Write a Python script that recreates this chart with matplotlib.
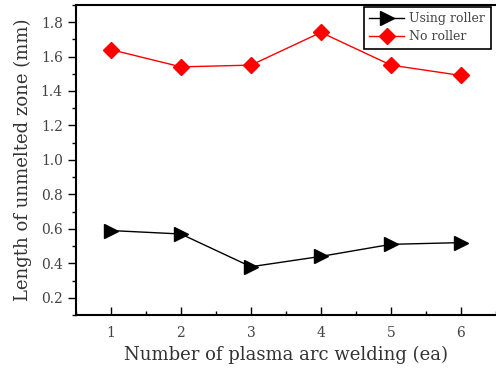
import matplotlib
matplotlib.use("Agg")
import matplotlib.pyplot as plt
from matplotlib.ticker import MultipleLocator

welds = [1, 2, 3, 4, 5, 6]
using_roller = [0.59, 0.57, 0.38, 0.44, 0.51, 0.52]
no_roller = [1.64, 1.54, 1.55, 1.74, 1.55, 1.49]

plt.rcParams['font.family'] = ['DejaVu Serif']

fig = plt.figure(figsize=(4.96, 3.71), dpi=100)
ax = fig.add_axes([0.153, 0.151, 0.847, 0.836])

ax.plot(welds, using_roller, color='black', lw=1, marker='>', markersize=10,
        label='Using roller')
ax.plot(welds, no_roller, color='red', lw=1, marker='D', markersize=8,
        label='No roller')

ax.set_xlim(0.5, 6.5)
ax.set_ylim(0.1, 1.9)
ax.set_xticks(welds)
ax.xaxis.set_minor_locator(MultipleLocator(0.5))
ax.yaxis.set_major_locator(MultipleLocator(0.2))
ax.yaxis.set_minor_locator(MultipleLocator(0.1))

# y ticks point out, x ticks point in (as in the original)
ax.tick_params(axis='y', which='major', direction='out', length=6, width=1,
               labelsize=10, labelcolor='#444444')
ax.tick_params(axis='y', which='minor', direction='out', length=3, width=1)
ax.tick_params(axis='x', which='major', direction='in', length=6, width=1,
               labelsize=10, labelcolor='#444444', pad=8)
ax.tick_params(axis='x', which='minor', direction='in', length=3, width=1)

for side in ['left', 'bottom', 'top']:
    ax.spines[side].set_linewidth(1.5)
ax.spines['right'].set_visible(False)

ax.set_xlabel('Number of plasma arc welding (ea)', fontsize=13, color='#333333')
ax.set_ylabel('Length of unmelted zone (mm)', fontsize=13, color='#333333',
              labelpad=6)

leg = ax.legend(loc='upper right', bbox_to_anchor=(0.988, 0.994),
                borderaxespad=0, fontsize=9, fancybox=False, framealpha=1,
                edgecolor='black', borderpad=0.45, handlelength=2.8,
                handletextpad=0.4, labelspacing=0.4)
leg.get_frame().set_linewidth(1.2)
for t in leg.get_texts():
    t.set_color('#444444')

fig.savefig('out.png', dpi=100)
